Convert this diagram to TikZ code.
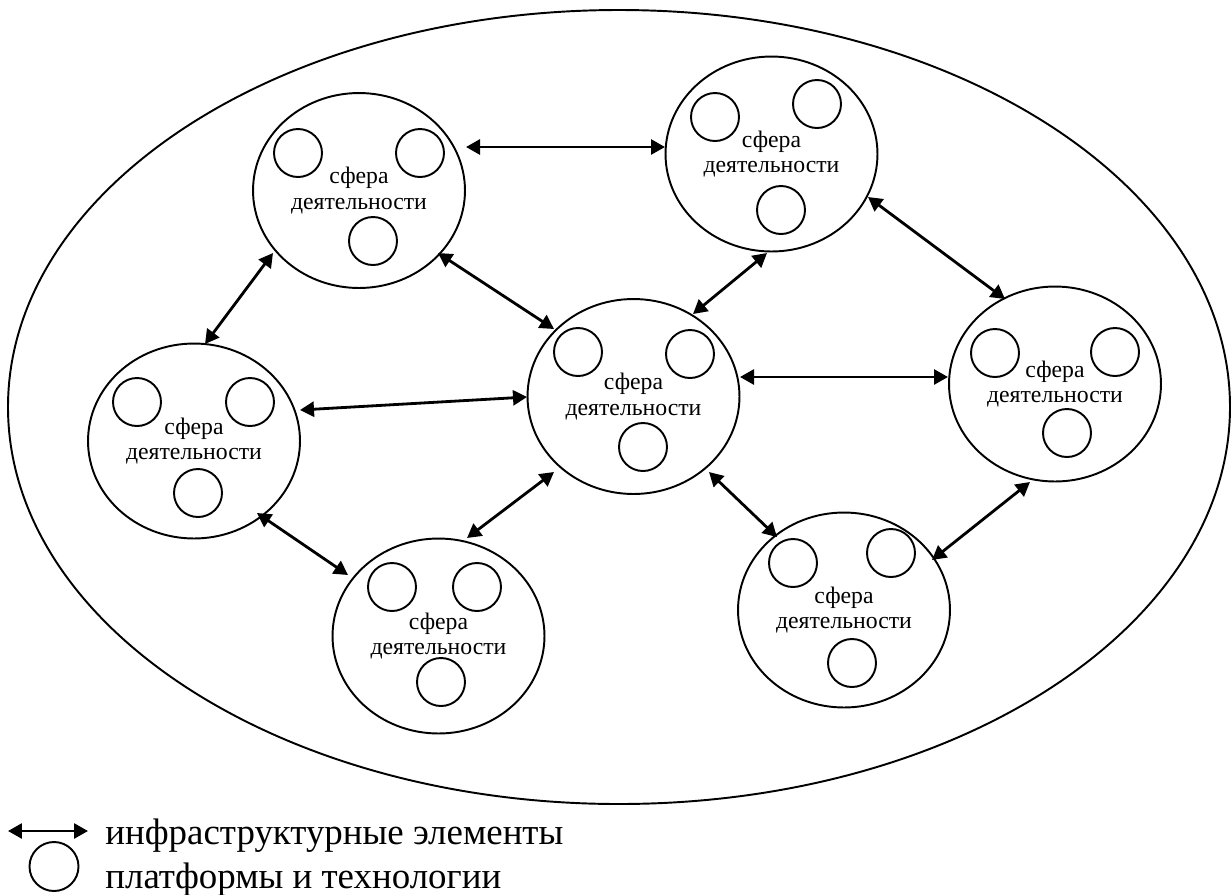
\documentclass[tikz,border=0pt]{standalone}
\usepackage{fontspec}
\setmainfont{Liberation Serif}
\usetikzlibrary{arrows.meta,calc,shapes.geometric}
\tikzset{
    sphere/.style={ellipse,draw=black,line width=1.1pt,minimum width=4.24cm,minimum height=3.9cm,inner sep=0pt,align=center,font=\fontsize{13.5}{14.5}\selectfont},
    link/.style={line width=1.6pt,draw=black,{Triangle[length=0.28cm,width=0.3cm]}-{Triangle[length=0.28cm,width=0.3cm]}},
    tech/.style={line width=1.1pt,draw=black},
    legend/.style={font=\fontsize{21}{25}\selectfont,anchor=base west,inner sep=0pt}
}

\begin{document}
\begin{tikzpicture}[x=0.02cm,y=-0.02cm]
  \useasboundingbox (0,0) rectangle (1232,894);

  % outer field
  \draw[line width=1.1pt] (619,407) ellipse [x radius=611,y radius=397];

  % spheres of activity
  \node[sphere] (A) at (359,190.5) {сфера\\деятельности};
  \node[sphere] (B) at (771.5,154) {сфера\\деятельности};
  \node[sphere] (C) at (194,441) {сфера\\деятельности};
  \node[sphere] (D) at (633.5,396.5) {сфера\\деятельности};
  \node[sphere] (E) at (1055,384) {сфера\\деятельности};
  \node[sphere] (F) at (438.5,636) {сфера\\деятельности};
  \node[sphere] (G) at (844,610) {сфера\\деятельности};

  % platforms and technologies
  \foreach \P in {(298,153),(420,153),(373,241),
                  (715,117),(817,104),(781,210),
                  (137,402),(250,402),(198,493),
                  (578,352),(690,354),(643,447),
                  (995,353),(1115,352),(1067,433),
                  (392,587),(477,587),(441,682),
                  (793,563),(891,553),(852,663)}{
    \draw[tech] \P circle [radius=24];
  }

  % infrastructure links
  \draw[link] ($(A)+(107,-43.5)$) -- ($(B)+(-106.5,-7)$);
  \draw[link] ($(A)+(-86,62.5)$) -- ($(C)+(11,-97)$);
  \draw[link] ($(A)+(79,62.5)$) -- ($(D)+(-79.5,-67.5)$);
  \draw[link] ($(B)+(-4.5,99)$) -- ($(D)+(59.5,-82.5)$);
  \draw[link] ($(B)+(96.5,43)$) -- ($(E)+(-50,-85)$);
  \draw[link] ($(C)+(106,-31)$) -- ($(D)+(-106.5,0.5)$);
  \draw[link] ($(D)+(106.5,-19.5)$) -- ($(E)+(-107,-7)$);
  \draw[link] ($(C)+(63,72)$) -- ($(F)+(-90.5,-61)$);
  \draw[link] ($(D)+(-79.5,75.5)$) -- ($(F)+(28.5,-98)$);
  \draw[link] ($(D)+(75.5,75.5)$) -- ($(G)+(-67,-73)$);
  \draw[link] ($(E)+(-25,98)$) -- ($(G)+(88,-50)$);

  % legend
  \coordinate (L1) at (8,831);
  \coordinate (L2) at (88,831);
  \draw[link] (L1) -- (L2);
  \draw[tech] (54,866.5) circle [radius=24.5];
  \node[legend] (T1) at (105,844) {инфраструктурные элементы};
  \node[legend] (T2) at (105,888) {платформы и технологии};
\end{tikzpicture}
\end{document}
